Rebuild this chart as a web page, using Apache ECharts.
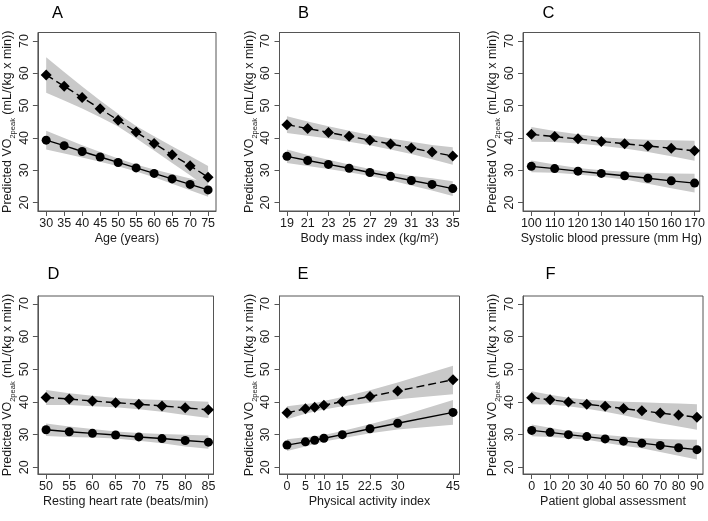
<!DOCTYPE html>
<html>
<head>
<meta charset="utf-8">
<script src="https://cdn.jsdelivr.net/npm/echarts@6/dist/echarts.min.js"></script>
<style>html,body{margin:0;padding:0;background:#fff}#c{width:708px;height:521px}</style>
</head>
<body>
<div id="c"></div>
<script>
// ---------- DATA ----------
// A: Age
const ageX = [30, 35, 40, 45, 50, 55, 60, 65, 70, 75];
const ageDash = [59.5, 56.0, 52.5, 49.0, 45.5, 41.8, 38.3, 34.8, 31.4, 27.8];
const ageDashUp = [65.0, 60.4, 55.9, 51.6, 47.5, 43.7, 40.5, 37.4, 34.4, 31.3];
const ageDashLo = [54.0, 51.6, 49.1, 46.4, 43.5, 39.9, 36.1, 32.2, 28.4, 24.3];
const ageSolid = [39.3, 37.6, 35.8, 34.1, 32.4, 30.7, 29.0, 27.3, 25.6, 23.9];
const ageSolidUp = [42.2, 40.0, 37.7, 35.6, 33.6, 31.8, 30.2, 28.8, 27.4, 26.0];
const ageSolidLo = [36.4, 35.2, 33.9, 32.6, 31.2, 29.6, 27.8, 25.8, 23.8, 21.8];
const ageTicks = [30, 35, 40, 45, 50, 55, 60, 65, 70, 75];

// B: Body mass index
const bmiX = [19, 21, 23, 25, 27, 29, 31, 33, 35];
const bmiDash = [44.1, 42.9, 41.7, 40.5, 39.3, 38.1, 36.9, 35.6, 34.4];
const bmiDashUp = [46.7, 45.1, 43.6, 42.2, 40.9, 39.8, 38.8, 37.8, 37.1];
const bmiDashLo = [41.5, 40.7, 39.8, 38.8, 37.7, 36.4, 35.0, 33.4, 31.7];
const bmiSolid = [34.3, 33.0, 31.8, 30.6, 29.3, 28.1, 26.8, 25.6, 24.3];
const bmiSolidUp = [36.4, 34.7, 33.2, 31.8, 30.4, 29.3, 28.3, 27.5, 26.6];
const bmiSolidLo = [32.2, 31.3, 30.4, 29.4, 28.2, 26.9, 25.3, 23.7, 22.0];
const bmiTicks = [19, 21, 23, 25, 27, 29, 31, 33, 35];

// C: Systolic blood pressure
const sbpX = [100, 110, 120, 130, 140, 150, 160, 170];
const sbpDash = [41.1, 40.4, 39.7, 38.9, 38.2, 37.5, 36.8, 36.0];
const sbpDashUp = [43.4, 42.1, 41.1, 40.2, 39.7, 39.4, 39.3, 39.1];
const sbpDashLo = [38.8, 38.7, 38.3, 37.6, 36.7, 35.6, 34.3, 32.9];
const sbpSolid = [31.2, 30.5, 29.7, 29.0, 28.3, 27.5, 26.7, 26.0];
const sbpSolidUp = [33.0, 31.8, 30.7, 30.0, 29.5, 29.2, 29.0, 28.9];
const sbpSolidLo = [29.4, 29.2, 28.7, 28.0, 27.1, 25.8, 24.4, 23.1];
const sbpTicks = [100, 110, 120, 130, 140, 150, 160, 170];

// D: Resting heart rate
const hrX = [50, 55, 60, 65, 70, 75, 80, 85];
const hrDash = [41.4, 40.9, 40.3, 39.8, 39.3, 38.8, 38.2, 37.6];
const hrDashUp = [43.7, 42.7, 41.9, 41.2, 40.8, 40.6, 40.4, 40.1];
const hrDashLo = [39.1, 39.1, 38.7, 38.4, 37.8, 37.0, 36.0, 35.1];
const hrSolid = [31.5, 30.9, 30.4, 29.9, 29.3, 28.8, 28.2, 27.7];
const hrSolidUp = [33.4, 32.5, 31.7, 31.0, 30.5, 30.2, 30.0, 29.7];
const hrSolidLo = [29.6, 29.3, 29.1, 28.8, 28.1, 27.4, 26.4, 25.7];
const hrTicks = [50, 55, 60, 65, 70, 75, 80, 85];

// E: Physical activity index
const paiX = [0, 5, 7.5, 10, 15, 22.5, 30, 45];
const paiDash = [36.7, 37.9, 38.4, 39.0, 40.1, 41.7, 43.4, 46.8];
const paiDashUp = [38.7, 39.4, 39.7, 40.3, 41.5, 43.6, 46.0, 51.1];
const paiDashLo = [34.7, 36.4, 37.1, 37.7, 38.7, 39.8, 40.8, 42.4];
const paiSolid = [26.8, 27.8, 28.3, 28.9, 30.0, 31.8, 33.5, 36.8];
const paiSolidUp = [28.6, 29.2, 29.5, 29.9, 31.1, 33.2, 35.4, 40.6];
const paiSolidLo = [25.0, 26.4, 27.1, 27.9, 28.9, 30.4, 31.6, 33.0];
const paiTicks = [0, 5, 7.5, 10, 15, 22.5, 30, 45];
const paiLabels = [0, 5, 10, 15, 22.5, 30, 45];

// F: Patient global assessment
const pgaX = [0, 10, 20, 30, 40, 50, 60, 70, 80, 90];
const pgaDash = [41.3, 40.7, 40.0, 39.3, 38.7, 38.0, 37.3, 36.6, 36.0, 35.3];
const pgaDashUp = [43.3, 42.2, 41.3, 40.7, 40.4, 40.1, 39.9, 39.7, 39.5, 39.3];
const pgaDashLo = [39.3, 39.2, 38.7, 37.9, 37.0, 35.9, 34.7, 33.5, 32.5, 31.5];
const pgaSolid = [31.3, 30.7, 30.0, 29.4, 28.7, 28.0, 27.4, 26.7, 26.0, 25.4];
const pgaSolidUp = [33.1, 32.1, 31.1, 30.4, 29.9, 29.4, 29.0, 28.7, 28.5, 28.4];
const pgaSolidLo = [29.5, 29.3, 28.9, 28.4, 27.5, 26.6, 25.8, 24.7, 23.5, 22.4];
const pgaTicks = [0, 10, 20, 30, 40, 50, 60, 70, 80, 90];

const yTicks = [20, 30, 40, 50, 60, 70];
const panelLetters = ['A', 'B', 'C', 'D', 'E', 'F'];
const xTitles = ['Age (years)', 'Body mass index (kg/m\u00B2)', 'Systolic blood pressure (mm Hg)',
  'Resting heart rate (beats/min)', 'Physical activity index', 'Patient global assessment'];

// ---------- LAYOUT ----------
const FONT = '"Liberation Sans", Arial, sans-serif';
const TXT = '#1a1a1a';
const AX = '#555';
const BAND = '#c9c9c9';

const panels = [
  {x: ageX, d: ageDash, du: ageDashUp, dl: ageDashLo, s: ageSolid, su: ageSolidUp, sl: ageSolidLo, ticks: ageTicks, labels: ageTicks,
   grid: {left: 35, top: 32.5, width: 181, height: 178.5}, xr: [27.7, 77.2], yr: [17.37, 72.63], letter: [57.5, 13]},
  {x: bmiX, d: bmiDash, du: bmiDashUp, dl: bmiDashLo, s: bmiSolid, su: bmiSolidUp, sl: bmiSolidLo, ticks: bmiTicks, labels: bmiTicks,
   grid: {left: 279.5, top: 32.5, width: 180, height: 178.5}, xr: [18.28, 35.65], yr: [17.37, 72.63], letter: [303.5, 13]},
  {x: sbpX, d: sbpDash, du: sbpDashUp, dl: sbpDashLo, s: sbpSolid, su: sbpSolidUp, sl: sbpSolidLo, ticks: sbpTicks, labels: sbpTicks,
   grid: {left: 523, top: 32.5, width: 180, height: 178.5}, xr: [96.42, 172.2], yr: [17.37, 72.63], letter: [548.5, 13]},
  {x: hrX, d: hrDash, du: hrDashUp, dl: hrDashLo, s: hrSolid, su: hrSolidUp, sl: hrSolidLo, ticks: hrTicks, labels: hrTicks,
   grid: {left: 35, top: 296, width: 178.5, height: 178}, xr: [48.24, 86.1], yr: [17.95, 72.45], letter: [53.5, 274]},
  {x: paiX, d: paiDash, du: paiDashUp, dl: paiDashLo, s: paiSolid, su: paiSolidUp, sl: paiSolidLo, ticks: paiTicks, labels: paiLabels,
   grid: {left: 279.5, top: 296, width: 180, height: 178}, xr: [-2.03, 46.76], yr: [17.95, 72.45], letter: [303, 274]},
  {x: pgaX, d: pgaDash, du: pgaDashUp, dl: pgaDashLo, s: pgaSolid, su: pgaSolidUp, sl: pgaSolidLo, ticks: pgaTicks, labels: pgaTicks,
   grid: {left: 523, top: 296, width: 180, height: 178}, xr: [-4.74, 93.3], yr: [17.95, 72.45], letter: [550.5, 274]}
];

const grids = [], xAxes = [], yAxes = [], series = [], graphics = [];
const pairs = (xs, ys) => xs.map((x, i) => [x, ys[i]]);

panels.forEach((p, k) => {
  grids.push(Object.assign({show: true, borderColor: AX, borderWidth: 1, containLabel: false}, p.grid));
  xAxes.push({
    gridIndex: k, type: 'value', min: p.xr[0], max: p.xr[1],
    axisLine: {show: true, onZero: false, lineStyle: {color: AX, width: 1}},
    axisTick: {show: true, length: 5, customValues: p.ticks, lineStyle: {color: AX}},
    axisLabel: {customValues: p.labels, margin: 6, fontSize: 12.5, color: TXT, fontFamily: FONT, showMinLabel: true, showMaxLabel: true},
    splitLine: {show: false},
    name: xTitles[k], nameLocation: 'middle', nameGap: 21,
    nameTextStyle: {fontSize: 12.5, color: TXT, fontFamily: FONT}
  });
  yAxes.push({
    gridIndex: k, type: 'value', min: p.yr[0], max: p.yr[1],
    axisLine: {show: true, onZero: false, lineStyle: {color: AX, width: 1}},
    axisTick: {show: true, length: 5, customValues: yTicks, lineStyle: {color: AX}},
    axisLabel: {customValues: yTicks, rotate: 90, margin: 7, fontSize: 12.5, color: TXT, fontFamily: FONT},
    splitLine: {show: false},
    name: 'Predicted VO{sub|2peak} (mL/(kg x min))', nameLocation: 'middle', nameGap: 23, nameRotate: 90,
    nameTextStyle: {fontSize: 12.5, color: TXT, fontFamily: FONT,
      rich: {sub: {fontSize: 7.5, color: TXT, fontFamily: FONT, verticalAlign: 'bottom', padding: [0, 0, -3, 0]}}}
  });
  // confidence bands drawn as polygons through the axis scales
  [[p.dl, p.du], [p.sl, p.su]].forEach(([lo, up]) => {
    const rows = p.x.map((x, i) => [x, lo[i], up[i]]);
    series.push({
      type: 'custom', xAxisIndex: k, yAxisIndex: k, silent: true, z: 1,
      data: rows, encode: {x: 0, y: [1, 2]},
      renderItem: (params, api) => {
        if (params.dataIndex !== 0) return null;
        const top = rows.map(r => api.coord([r[0], r[2]]));
        const bot = rows.map(r => api.coord([r[0], r[1]])).reverse();
        return {type: 'polygon', shape: {points: top.concat(bot)}, style: {fill: BAND, stroke: null}};
      }
    });
  });
  series.push({type: 'line', xAxisIndex: k, yAxisIndex: k, data: pairs(p.x, p.d),
    symbol: 'diamond', symbolSize: 11, itemStyle: {color: '#000'},
    lineStyle: {color: '#000', width: 1.4, type: [8, 4]}, z: 5});
  series.push({type: 'line', xAxisIndex: k, yAxisIndex: k, data: pairs(p.x, p.s),
    symbol: 'circle', symbolSize: 9, itemStyle: {color: '#000'},
    lineStyle: {color: '#000', width: 1.4}, z: 5});
  graphics.push({type: 'text', x: p.letter[0], y: p.letter[1],
    style: {text: panelLetters[k], fontSize: 16.5, fill: '#000', fontFamily: FONT, textAlign: 'center', textVerticalAlign: 'middle'}});
});

const chart = echarts.init(document.getElementById('c'), null, {renderer: 'canvas'});
chart.setOption({
  animation: false,
  backgroundColor: '#fff',
  grid: grids, xAxis: xAxes, yAxis: yAxes, series, graphic: graphics
});
</script>
</body>
</html>
